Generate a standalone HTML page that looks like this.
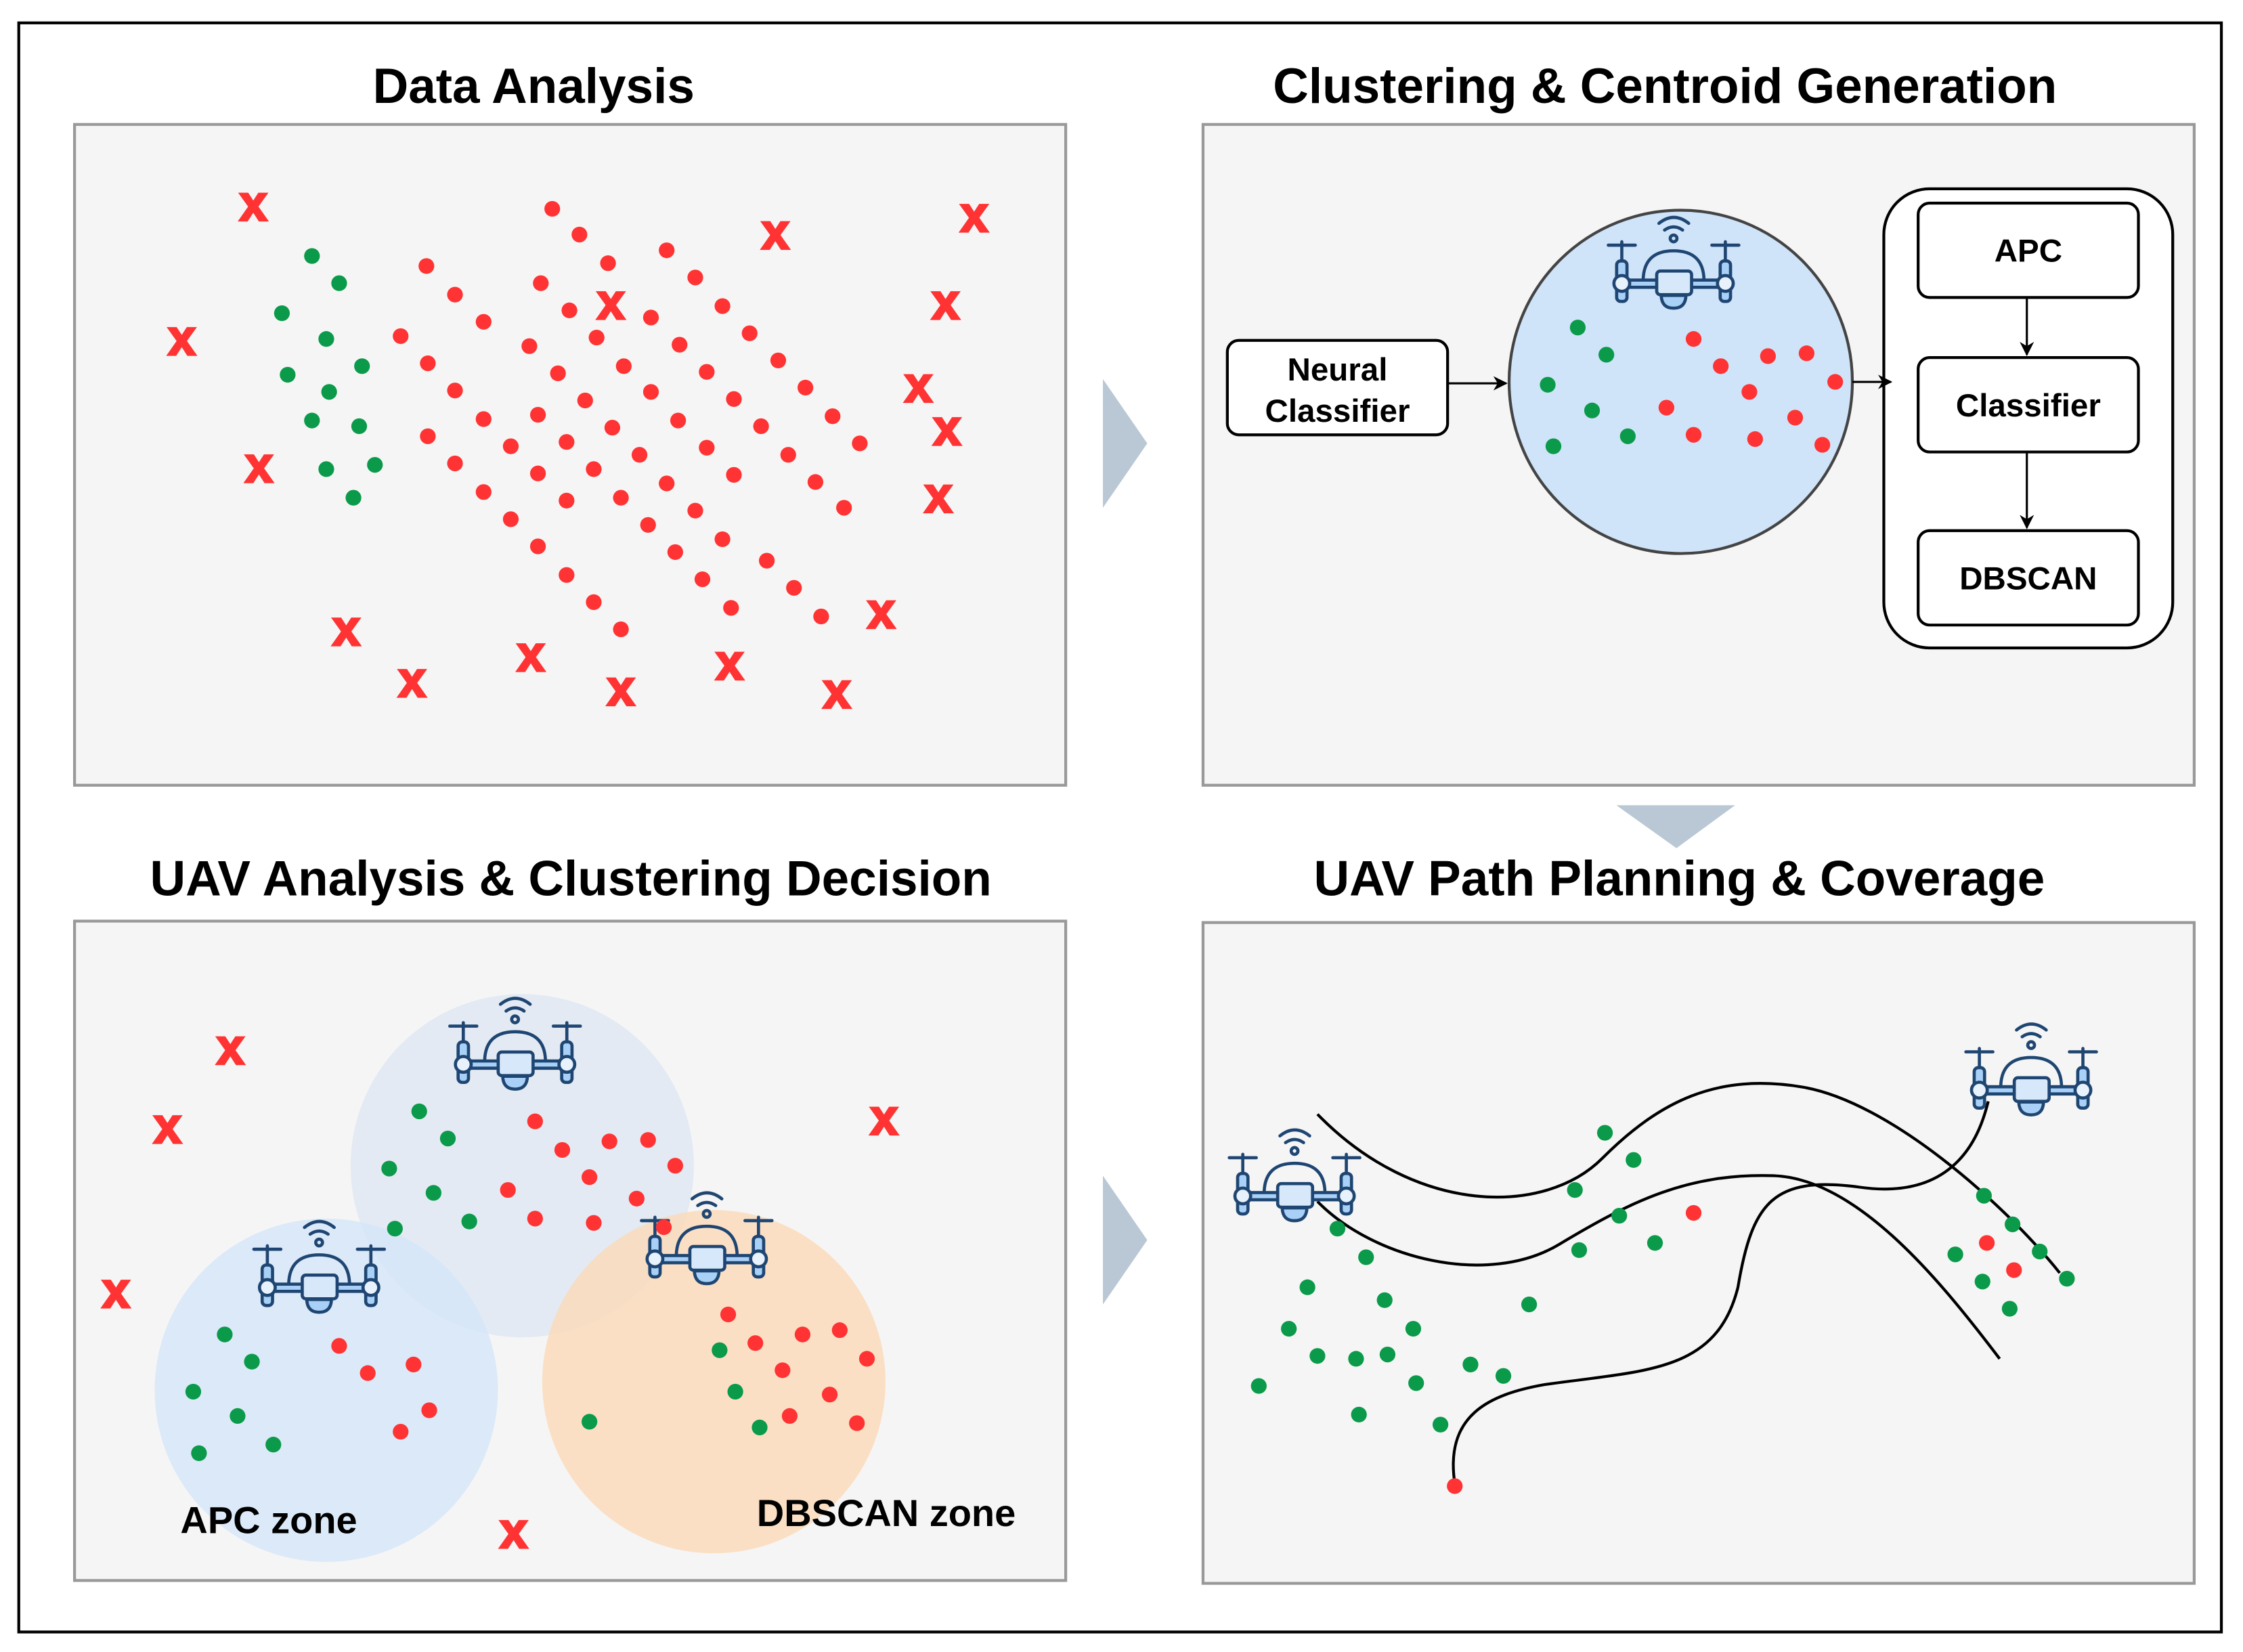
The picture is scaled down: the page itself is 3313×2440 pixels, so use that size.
<!DOCTYPE html>
<html><head><meta charset="utf-8"><style>html,body{margin:0;padding:0;background:#fff}svg{display:block}</style></head>
<body>
<svg width="3313" height="2440" viewBox="0 0 1568 1155" xmlns="http://www.w3.org/2000/svg" font-family="Liberation Sans, sans-serif">
<defs>
<symbol id="drone" viewBox="60 40 610 430">
<g fill="none" stroke="#1f4672" stroke-width="14" stroke-linecap="round" stroke-linejoin="round">
<path d="M300 78 Q366 25 432 78"/><path d="M325 108 Q365 80 405 108"/>
<circle cx="365" cy="145" r="15"/>
<line x1="75" y1="175" x2="195" y2="175"/><line x1="535" y1="175" x2="655" y2="175"/>
<line x1="135" y1="160" x2="135" y2="245"/><line x1="595" y1="160" x2="595" y2="245"/>
<path d="M230 325 Q235 200 365 200 Q495 200 500 325"/>
<rect x="112" y="245" width="46" height="180" rx="18" fill="#a9d1f7"/>
<rect x="572" y="245" width="46" height="180" rx="18" fill="#a9d1f7"/>
<rect x="160" y="330" width="135" height="32" fill="#a9d1f7"/>
<rect x="440" y="330" width="135" height="32" fill="#a9d1f7"/>
<circle cx="135" cy="345" r="35" fill="#e8f2fc"/><circle cx="595" cy="345" r="35" fill="#e8f2fc"/>
<path d="M310 398 Q312 455 365 455 Q418 455 420 398 Z" fill="#a9d1f7"/>
<rect x="290" y="290" width="155" height="105" rx="16" fill="#d6e8fa"/>
</g></symbol>
<marker id="ah" markerWidth="10" markerHeight="10" refX="9" refY="5" orient="auto" markerUnits="userSpaceOnUse"><path d="M0 0 L10 5 L0 10 L3 5 Z" fill="#000"/></marker>
</defs>
<rect x="13" y="16" width="1540" height="1125" fill="#fff" stroke="#000" stroke-width="2"/>
<g fill="#f5f5f5" stroke="#999" stroke-width="2">
<rect x="52" y="87" width="693" height="462"/><rect x="841" y="87" width="693" height="462"/>
<rect x="52" y="644" width="693" height="461"/><rect x="841" y="645" width="693" height="462"/>
</g>
<g font-weight="bold" font-size="34.5" text-anchor="middle" fill="#000">
<text x="373" y="72">Data Analysis</text>
<text x="1164" y="72">Clustering &amp; Centroid Generation</text>
<text x="399" y="626">UAV Analysis &amp; Clustering Decision</text>
<text x="1174" y="626">UAV Path Planning &amp; Coverage</text>
</g>
<g fill="#b9c8d4">
<path d="M771 265 L802 310 L771 355 Z"/><path d="M1130 563 L1213 563 L1172 593 Z"/><path d="M771 822 L802 867 L771 912 Z"/>
</g>
<!-- TL -->
<g fill="#0a9a4a">
<circle cx="218" cy="179" r="5.5"/><circle cx="237" cy="198" r="5.5"/><circle cx="197" cy="219" r="5.5"/><circle cx="228" cy="237" r="5.5"/><circle cx="253" cy="256" r="5.5"/><circle cx="201" cy="262" r="5.5"/><circle cx="230" cy="274" r="5.5"/><circle cx="218" cy="294" r="5.5"/><circle cx="251" cy="298" r="5.5"/><circle cx="228" cy="328" r="5.5"/><circle cx="262" cy="325" r="5.5"/><circle cx="247" cy="348" r="5.5"/>
</g>
<g fill="#f33">
<circle cx="386" cy="146" r="5.5"/><circle cx="405" cy="164" r="5.5"/><circle cx="425" cy="184" r="5.5"/><circle cx="466" cy="175" r="5.5"/><circle cx="486" cy="194" r="5.5"/><circle cx="505" cy="214" r="5.5"/><circle cx="524" cy="233" r="5.5"/><circle cx="544" cy="252" r="5.5"/><circle cx="563" cy="271" r="5.5"/><circle cx="582" cy="291" r="5.5"/><circle cx="601" cy="310" r="5.5"/>
<circle cx="298" cy="186" r="5.5"/><circle cx="318" cy="206" r="5.5"/><circle cx="338" cy="225" r="5.5"/><circle cx="378" cy="198" r="5.5"/><circle cx="398" cy="217" r="5.5"/>
<circle cx="455" cy="222" r="5.5"/><circle cx="475" cy="241" r="5.5"/><circle cx="494" cy="260" r="5.5"/><circle cx="513" cy="279" r="5.5"/><circle cx="532" cy="298" r="5.5"/><circle cx="551" cy="318" r="5.5"/><circle cx="570" cy="337" r="5.5"/><circle cx="590" cy="355" r="5.5"/>
<circle cx="417" cy="236" r="5.5"/><circle cx="436" cy="256" r="5.5"/><circle cx="455" cy="274" r="5.5"/><circle cx="474" cy="294" r="5.5"/><circle cx="494" cy="313" r="5.5"/><circle cx="513" cy="332" r="5.5"/>
<circle cx="370" cy="242" r="5.5"/><circle cx="390" cy="261" r="5.5"/><circle cx="409" cy="280" r="5.5"/><circle cx="428" cy="299" r="5.5"/><circle cx="447" cy="318" r="5.5"/><circle cx="466" cy="338" r="5.5"/><circle cx="486" cy="357" r="5.5"/><circle cx="505" cy="377" r="5.5"/><circle cx="536" cy="392" r="5.5"/><circle cx="555" cy="411" r="5.5"/><circle cx="574" cy="431" r="5.5"/>
<circle cx="280" cy="235" r="5.5"/><circle cx="299" cy="254" r="5.5"/><circle cx="318" cy="273" r="5.5"/><circle cx="338" cy="293" r="5.5"/><circle cx="357" cy="312" r="5.5"/><circle cx="376" cy="331" r="5.5"/><circle cx="396" cy="350" r="5.5"/>
<circle cx="299" cy="305" r="5.5"/><circle cx="318" cy="324" r="5.5"/><circle cx="338" cy="344" r="5.5"/><circle cx="357" cy="363" r="5.5"/><circle cx="376" cy="382" r="5.5"/><circle cx="396" cy="402" r="5.5"/><circle cx="415" cy="421" r="5.5"/><circle cx="434" cy="440" r="5.5"/>
<circle cx="376" cy="290" r="5.5"/><circle cx="396" cy="309" r="5.5"/><circle cx="415" cy="328" r="5.5"/><circle cx="434" cy="348" r="5.5"/><circle cx="453" cy="367" r="5.5"/><circle cx="472" cy="386" r="5.5"/><circle cx="491" cy="405" r="5.5"/><circle cx="511" cy="425" r="5.5"/>
</g>
<g fill="#f33" stroke="#f33" stroke-width="1.5" font-weight="bold" font-size="35" text-anchor="middle">
<text x="177" y="154">x</text><text x="127" y="248">x</text><text x="181" y="337">x</text><text x="542" y="174">x</text><text x="681" y="162">x</text><text x="661" y="223">x</text><text x="642" y="281">x</text><text x="662" y="311">x</text><text x="656" y="358">x</text><text x="427" y="223">x</text><text x="242" y="451">x</text><text x="288" y="487">x</text><text x="371" y="469">x</text><text x="434" y="493">x</text><text x="510" y="475">x</text><text x="585" y="495">x</text><text x="616" y="439">x</text>
<text x="161" y="744">x</text><text x="117" y="799">x</text><text x="618" y="793">x</text><text x="81" y="914">x</text><text x="359" y="1082">x</text>
</g>
<!-- TR -->
<circle cx="1175" cy="267" r="120" fill="#cfe3f9" stroke="#444" stroke-width="2"/>
<use href="#drone" x="1122" y="150" width="96" height="68"/>
<g fill="#0a9a4a"><circle cx="1103" cy="229" r="5.5"/><circle cx="1123" cy="248" r="5.5"/><circle cx="1082" cy="269" r="5.5"/><circle cx="1113" cy="287" r="5.5"/><circle cx="1138" cy="305" r="5.5"/><circle cx="1086" cy="312" r="5.5"/></g>
<g fill="#f33"><circle cx="1184" cy="237" r="5.5"/><circle cx="1203" cy="256" r="5.5"/><circle cx="1236" cy="249" r="5.5"/><circle cx="1263" cy="247" r="5.5"/><circle cx="1223" cy="274" r="5.5"/><circle cx="1283" cy="267" r="5.5"/><circle cx="1165" cy="285" r="5.5"/><circle cx="1184" cy="304" r="5.5"/><circle cx="1255" cy="292" r="5.5"/><circle cx="1227" cy="307" r="5.5"/><circle cx="1274" cy="311" r="5.5"/></g>
<g fill="#fff" stroke="#000" stroke-width="2">
<rect x="858" y="238" width="154" height="66" rx="8"/>
<rect x="1317" y="132" width="202" height="321" rx="32"/>
<rect x="1341" y="142" width="154" height="66" rx="8"/>
<rect x="1341" y="250" width="154" height="66" rx="8"/>
<rect x="1341" y="371" width="154" height="66" rx="8"/>
</g>
<g stroke="#000" stroke-width="1.5" marker-end="url(#ah)">
<line x1="1012" y1="268" x2="1053" y2="268"/><line x1="1295" y1="267" x2="1322" y2="267"/>
<line x1="1417" y1="208" x2="1417" y2="248"/><line x1="1417" y1="316" x2="1417" y2="369"/>
</g>
<g font-weight="bold" font-size="22.5" text-anchor="middle">
<text x="935" y="266">Neural</text><text x="935" y="295">Classifier</text>
<text x="1418" y="183">APC</text><text x="1418" y="291">Classifier</text><text x="1418" y="412">DBSCAN</text>
</g>
<!-- BL -->
<circle cx="365" cy="815" r="120" fill="#dce6f1" opacity="0.75"/>
<circle cx="228" cy="972" r="120" fill="#d5e6f9" opacity="0.8"/>
<circle cx="499" cy="966" r="120" fill="#fbd9b8" opacity="0.8"/>
<use href="#drone" x="312" y="696" width="96" height="68"/>
<use href="#drone" x="175" y="852" width="96" height="68"/>
<use href="#drone" x="446" y="832" width="96" height="68"/>
<g fill="#0a9a4a"><circle cx="293" cy="777" r="5.5"/><circle cx="313" cy="796" r="5.5"/><circle cx="272" cy="817" r="5.5"/><circle cx="303" cy="834" r="5.5"/><circle cx="328" cy="854" r="5.5"/><circle cx="276" cy="859" r="5.5"/><circle cx="157" cy="933" r="5.5"/><circle cx="176" cy="952" r="5.5"/><circle cx="135" cy="973" r="5.5"/><circle cx="166" cy="990" r="5.5"/><circle cx="191" cy="1010" r="5.5"/><circle cx="139" cy="1016" r="5.5"/><circle cx="503" cy="944" r="5.5"/><circle cx="514" cy="973" r="5.5"/><circle cx="531" cy="998" r="5.5"/><circle cx="412" cy="994" r="5.5"/></g>
<g fill="#f33"><circle cx="374" cy="784" r="5.5"/><circle cx="393" cy="804" r="5.5"/><circle cx="426" cy="798" r="5.5"/><circle cx="453" cy="797" r="5.5"/><circle cx="412" cy="823" r="5.5"/><circle cx="472" cy="815" r="5.5"/><circle cx="355" cy="832" r="5.5"/><circle cx="374" cy="852" r="5.5"/><circle cx="415" cy="855" r="5.5"/><circle cx="445" cy="838" r="5.5"/><circle cx="464" cy="858" r="5.5"/><circle cx="237" cy="941" r="5.5"/><circle cx="257" cy="960" r="5.5"/><circle cx="289" cy="954" r="5.5"/><circle cx="300" cy="986" r="5.5"/><circle cx="280" cy="1001" r="5.5"/><circle cx="509" cy="919" r="5.5"/><circle cx="528" cy="939" r="5.5"/><circle cx="561" cy="933" r="5.5"/><circle cx="587" cy="930" r="5.5"/><circle cx="547" cy="958" r="5.5"/><circle cx="606" cy="950" r="5.5"/><circle cx="580" cy="975" r="5.5"/><circle cx="552" cy="990" r="5.5"/><circle cx="599" cy="995" r="5.5"/></g>
<g font-weight="bold" font-size="26.5"><text x="126" y="1072">APC zone</text><text x="529" y="1067">DBSCAN zone</text></g>
<!-- BR -->
<g fill="none" stroke="#000" stroke-width="2">
<path d="M921 779 C990 850 1080 850 1120 810 C1160 770 1200 750 1260 760 C1320 770 1400 840 1440 890"/>
<path d="M921 840 C960 880 1040 900 1090 870 C1140 840 1180 820 1240 822 C1300 824 1360 900 1398 950"/>
<path d="M1017 1037 C1010 990 1040 975 1080 968 C1150 958 1200 960 1215 900 C1225 840 1240 822 1300 830 C1370 840 1385 790 1390 770"/>
</g>
<use href="#drone" x="857" y="788" width="96" height="68"/>
<use href="#drone" x="1372" y="714" width="96" height="68"/>
<g fill="#0a9a4a"><circle cx="935" cy="859" r="5.5"/><circle cx="955" cy="879" r="5.5"/><circle cx="914" cy="900" r="5.5"/><circle cx="968" cy="909" r="5.5"/><circle cx="988" cy="929" r="5.5"/><circle cx="901" cy="929" r="5.5"/><circle cx="921" cy="948" r="5.5"/><circle cx="948" cy="950" r="5.5"/><circle cx="970" cy="947" r="5.5"/><circle cx="990" cy="967" r="5.5"/><circle cx="880" cy="969" r="5.5"/><circle cx="950" cy="989" r="5.5"/><circle cx="1007" cy="996" r="5.5"/><circle cx="1028" cy="954" r="5.5"/><circle cx="1051" cy="962" r="5.5"/><circle cx="1069" cy="912" r="5.5"/><circle cx="1104" cy="874" r="5.5"/><circle cx="1101" cy="832" r="5.5"/><circle cx="1132" cy="850" r="5.5"/><circle cx="1157" cy="869" r="5.5"/><circle cx="1122" cy="792" r="5.5"/><circle cx="1142" cy="811" r="5.5"/><circle cx="1387" cy="836" r="5.5"/><circle cx="1407" cy="856" r="5.5"/><circle cx="1367" cy="877" r="5.5"/><circle cx="1386" cy="896" r="5.5"/><circle cx="1426" cy="875" r="5.5"/><circle cx="1445" cy="894" r="5.5"/><circle cx="1405" cy="915" r="5.5"/></g>
<g fill="#f33"><circle cx="1184" cy="848" r="5.5"/><circle cx="1389" cy="869" r="5.5"/><circle cx="1408" cy="888" r="5.5"/><circle cx="1017" cy="1039" r="5.5"/></g>
</svg>
</body></html>
